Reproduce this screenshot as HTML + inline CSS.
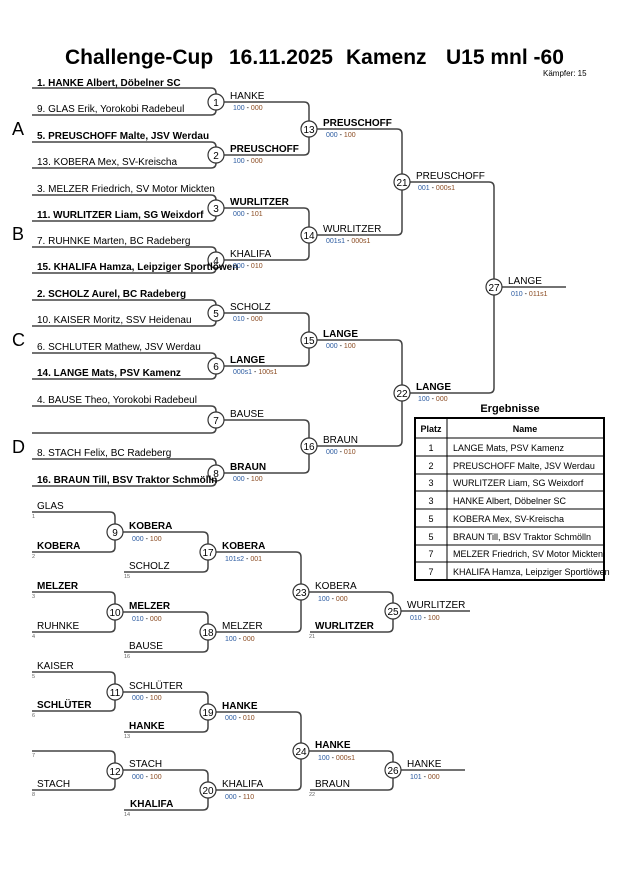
<!DOCTYPE html>
<html><head><meta charset="utf-8"><style>
html,body{margin:0;padding:0;background:#fff;}
svg{display:block;font-family:"Liberation Sans",Arial,sans-serif;}
.n{font-size:10px;fill:#000;}
.b{font-weight:bold;}
.s{font-size:7px;}
.sb{fill:#2a5aa0;} .sr{fill:#8a4a20;}
.t{font-size:5.5px;fill:#666;}
.c{fill:#fff;stroke:#333;stroke-width:1.2;}
.cn{font-size:10px;text-anchor:middle;}
path{fill:none;stroke:#444;stroke-width:1.5;}
</style></head><body>
<svg width="630" height="891" viewBox="0 0 630 891">
<g font-size="21" font-weight="bold">
<text x="65" y="64">Challenge-Cup</text>
<text x="229" y="64">16.11.2025</text>
<text x="346" y="64">Kamenz</text>
<text x="446" y="64">U15 mnl -60</text>
</g>
<text x="543" y="76" font-size="8">Kämpfer: 15</text>
<text x="12" y="135" font-size="18">A</text>
<text x="12" y="240" font-size="18">B</text>
<text x="12" y="346" font-size="18">C</text>
<text x="12" y="453" font-size="18">D</text>

<!-- main bracket lines -->
<path d="M32 88H211Q216 88 216 93V94M32 115H211Q216 115 216 110V110"/>
<path d="M32 142H211Q216 142 216 147V147M32 168H211Q216 168 216 163V163"/>
<path d="M32 195H211Q216 195 216 200V200M32 221H211Q216 221 216 216V216"/>
<path d="M32 247H211Q216 247 216 252V252M32 273H211Q216 273 216 268V268"/>
<path d="M32 300H211Q216 300 216 305V305M32 326H211Q216 326 216 321V321"/>
<path d="M32 353H211Q216 353 216 358V358M32 379H211Q216 379 216 374V374"/>
<path d="M32 406H211Q216 406 216 411V412M32 433H211Q216 433 216 428V428"/>
<path d="M32 459H211Q216 459 216 464V465M32 486H211Q216 486 216 481V481"/>
<path d="M224 102H304Q309 102 309 107V121M224 155H304Q309 155 309 150V137"/>
<path d="M224 208H304Q309 208 309 213V227M224 260H304Q309 260 309 255V243"/>
<path d="M224 313H304Q309 313 309 318V332M224 366H304Q309 366 309 361V348"/>
<path d="M224 420H304Q309 420 309 425V438M224 473H304Q309 473 309 468V454"/>
<path d="M317 129H397Q402 129 402 134V174M317 235H397Q402 235 402 230V190"/>
<path d="M317 340H397Q402 340 402 345V385M317 446H397Q402 446 402 441V401"/>
<path d="M410 182H489Q494 182 494 187V279M410 393H489Q494 393 494 388V295"/>
<path d="M502 287H566"/>

<!-- lower bracket lines -->
<path d="M32 512H110Q115 512 115 517V524M32 552H110Q115 552 115 547V540"/>
<path d="M32 592H110Q115 592 115 597V604M32 632H110Q115 632 115 627V620"/>
<path d="M32 672H110Q115 672 115 677V684M32 711H110Q115 711 115 706V700"/>
<path d="M32 751H110Q115 751 115 756V763M32 790H110Q115 790 115 785V779"/>
<path d="M123 532H203Q208 532 208 537V544M124 572H203Q208 572 208 567V560"/>
<path d="M123 612H203Q208 612 208 617V624M124 652H203Q208 652 208 647V640"/>
<path d="M123 692H203Q208 692 208 697V704M124 732H203Q208 732 208 727V720"/>
<path d="M123 770H203Q208 770 208 775V782M124 810H203Q208 810 208 805V798"/>
<path d="M216 552H296Q301 552 301 557V584M216 632H296Q301 632 301 627V600"/>
<path d="M216 712H296Q301 712 301 717V743M216 790H296Q301 790 301 785V759"/>
<path d="M309 592H388Q393 592 393 597V603M310 632H388Q393 632 393 627V619"/>
<path d="M309 751H388Q393 751 393 756V762M310 790H388Q393 790 393 785V778"/>
<path d="M401 611H470"/>
<path d="M401 770H465"/>

<!-- circles -->
<g>
<circle class="c" cx="216" cy="102" r="8"/><text class="cn" x="216" y="106">1</text>
<circle class="c" cx="216" cy="155" r="8"/><text class="cn" x="216" y="159">2</text>
<circle class="c" cx="216" cy="208" r="8"/><text class="cn" x="216" y="212">3</text>
<circle class="c" cx="216" cy="260" r="8"/><text class="cn" x="216" y="264">4</text>
<circle class="c" cx="216" cy="313" r="8"/><text class="cn" x="216" y="317">5</text>
<circle class="c" cx="216" cy="366" r="8"/><text class="cn" x="216" y="370">6</text>
<circle class="c" cx="216" cy="420" r="8"/><text class="cn" x="216" y="424">7</text>
<circle class="c" cx="216" cy="473" r="8"/><text class="cn" x="216" y="477">8</text>
<circle class="c" cx="309" cy="129" r="8"/><text class="cn" x="309" y="133">13</text>
<circle class="c" cx="309" cy="235" r="8"/><text class="cn" x="309" y="239">14</text>
<circle class="c" cx="309" cy="340" r="8"/><text class="cn" x="309" y="344">15</text>
<circle class="c" cx="309" cy="446" r="8"/><text class="cn" x="309" y="450">16</text>
<circle class="c" cx="402" cy="182" r="8"/><text class="cn" x="402" y="186">21</text>
<circle class="c" cx="402" cy="393" r="8"/><text class="cn" x="402" y="397">22</text>
<circle class="c" cx="494" cy="287" r="8"/><text class="cn" x="494" y="291">27</text>
<circle class="c" cx="115" cy="532" r="8"/><text class="cn" x="115" y="536">9</text>
<circle class="c" cx="115" cy="612" r="8"/><text class="cn" x="115" y="616">10</text>
<circle class="c" cx="115" cy="692" r="8"/><text class="cn" x="115" y="696">11</text>
<circle class="c" cx="115" cy="771" r="8"/><text class="cn" x="115" y="775">12</text>
<circle class="c" cx="208" cy="552" r="8"/><text class="cn" x="208" y="556">17</text>
<circle class="c" cx="208" cy="632" r="8"/><text class="cn" x="208" y="636">18</text>
<circle class="c" cx="208" cy="712" r="8"/><text class="cn" x="208" y="716">19</text>
<circle class="c" cx="208" cy="790" r="8"/><text class="cn" x="208" y="794">20</text>
<circle class="c" cx="301" cy="592" r="8"/><text class="cn" x="301" y="596">23</text>
<circle class="c" cx="301" cy="751" r="8"/><text class="cn" x="301" y="755">24</text>
<circle class="c" cx="393" cy="611" r="8"/><text class="cn" x="393" y="615">25</text>
<circle class="c" cx="393" cy="770" r="8"/><text class="cn" x="393" y="774">26</text>
</g>

<!-- main names -->
<text class="n b" x="37" y="86">1. HANKE Albert, Döbelner SC</text>
<text class="n" x="37" y="112">9. GLAS Erik, Yorokobi Radebeul</text>
<text class="n b" x="37" y="139">5. PREUSCHOFF Malte, JSV Werdau</text>
<text class="n" x="37" y="165">13. KOBERA Mex, SV-Kreischa</text>
<text class="n" x="37" y="192">3. MELZER Friedrich, SV Motor Mickten</text>
<text class="n b" x="37" y="218">11. WURLITZER Liam, SG Weixdorf</text>
<text class="n" x="37" y="244">7. RUHNKE Marten, BC Radeberg</text>
<text class="n b" x="37" y="270">15. KHALIFA Hamza, Leipziger Sportlöwen</text>
<text class="n b" x="37" y="297">2. SCHOLZ Aurel, BC Radeberg</text>
<text class="n" x="37" y="323">10. KAISER Moritz, SSV Heidenau</text>
<text class="n" x="37" y="350">6. SCHLUTER Mathew, JSV Werdau</text>
<text class="n b" x="37" y="376">14. LANGE Mats, PSV Kamenz</text>
<text class="n" x="37" y="403">4. BAUSE Theo, Yorokobi Radebeul</text>
<text class="n" x="37" y="456">8. STACH Felix, BC Radeberg</text>
<text class="n b" x="37" y="483">16. BRAUN Till, BSV Traktor Schmölln</text>

<text class="n" x="230" y="99">HANKE</text><text class="s" x="233" y="110"><tspan class="sb">100</tspan> - <tspan class="sr">000</tspan></text>
<text class="n b" x="230" y="152">PREUSCHOFF</text><text class="s" x="233" y="163"><tspan class="sb">100</tspan> - <tspan class="sr">000</tspan></text>
<text class="n b" x="230" y="205">WURLITZER</text><text class="s" x="233" y="216"><tspan class="sb">000</tspan> - <tspan class="sr">101</tspan></text>
<text class="n" x="230" y="257">KHALIFA</text><text class="s" x="233" y="268"><tspan class="sb">000</tspan> - <tspan class="sr">010</tspan></text>
<text class="n" x="230" y="310">SCHOLZ</text><text class="s" x="233" y="321"><tspan class="sb">010</tspan> - <tspan class="sr">000</tspan></text>
<text class="n b" x="230" y="363">LANGE</text><text class="s" x="233" y="374"><tspan class="sb">000s1</tspan> - <tspan class="sr">100s1</tspan></text>
<text class="n" x="230" y="417">BAUSE</text>
<text class="n b" x="230" y="470">BRAUN</text><text class="s" x="233" y="481"><tspan class="sb">000</tspan> - <tspan class="sr">100</tspan></text>

<text class="n b" x="323" y="126">PREUSCHOFF</text><text class="s" x="326" y="137"><tspan class="sb">000</tspan> - <tspan class="sr">100</tspan></text>
<text class="n" x="323" y="232">WURLITZER</text><text class="s" x="326" y="243"><tspan class="sb">001s1</tspan> - <tspan class="sr">000s1</tspan></text>
<text class="n b" x="323" y="337">LANGE</text><text class="s" x="326" y="348"><tspan class="sb">000</tspan> - <tspan class="sr">100</tspan></text>
<text class="n" x="323" y="443">BRAUN</text><text class="s" x="326" y="454"><tspan class="sb">000</tspan> - <tspan class="sr">010</tspan></text>

<text class="n" x="416" y="179">PREUSCHOFF</text><text class="s" x="418" y="190"><tspan class="sb">001</tspan> - <tspan class="sr">000s1</tspan></text>
<text class="n b" x="416" y="390">LANGE</text><text class="s" x="418" y="401"><tspan class="sb">100</tspan> - <tspan class="sr">000</tspan></text>
<text class="n" x="508" y="284">LANGE</text><text class="s" x="511" y="296"><tspan class="sb">010</tspan> - <tspan class="sr">011s1</tspan></text>

<!-- lower names -->
<text class="n" x="37" y="509">GLAS</text><text class="t" x="32" y="518">1</text>
<text class="n b" x="37" y="549">KOBERA</text><text class="t" x="32" y="558">2</text>
<text class="n b" x="37" y="589">MELZER</text><text class="t" x="32" y="598">3</text>
<text class="n" x="37" y="629">RUHNKE</text><text class="t" x="32" y="638">4</text>
<text class="n" x="37" y="669">KAISER</text><text class="t" x="32" y="678">5</text>
<text class="n b" x="37" y="708">SCHLÜTER</text><text class="t" x="32" y="717">6</text>
<text class="t" x="32" y="757">7</text>
<text class="n" x="37" y="787">STACH</text><text class="t" x="32" y="796">8</text>

<text class="n b" x="129" y="529">KOBERA</text><text class="s" x="132" y="541"><tspan class="sb">000</tspan> - <tspan class="sr">100</tspan></text>
<text class="n" x="129" y="569">SCHOLZ</text><text class="t" x="124" y="578">15</text>
<text class="n b" x="129" y="609">MELZER</text><text class="s" x="132" y="621"><tspan class="sb">010</tspan> - <tspan class="sr">000</tspan></text>
<text class="n" x="129" y="649">BAUSE</text><text class="t" x="124" y="658">16</text>
<text class="n" x="129" y="689">SCHLÜTER</text><text class="s" x="132" y="700"><tspan class="sb">000</tspan> - <tspan class="sr">100</tspan></text>
<text class="n b" x="129" y="729">HANKE</text><text class="t" x="124" y="738">13</text>
<text class="n" x="129" y="767">STACH</text><text class="s" x="132" y="779"><tspan class="sb">000</tspan> - <tspan class="sr">100</tspan></text>
<text class="n b" x="130" y="807">KHALIFA</text><text class="t" x="124" y="816">14</text>

<text class="n b" x="222" y="549">KOBERA</text><text class="s" x="225" y="561"><tspan class="sb">101s2</tspan> - <tspan class="sr">001</tspan></text>
<text class="n" x="222" y="629">MELZER</text><text class="s" x="225" y="641"><tspan class="sb">100</tspan> - <tspan class="sr">000</tspan></text>
<text class="n b" x="222" y="709">HANKE</text><text class="s" x="225" y="720"><tspan class="sb">000</tspan> - <tspan class="sr">010</tspan></text>
<text class="n" x="222" y="787">KHALIFA</text><text class="s" x="225" y="799"><tspan class="sb">000</tspan> - <tspan class="sr">110</tspan></text>

<text class="n" x="315" y="589">KOBERA</text><text class="s" x="318" y="601"><tspan class="sb">100</tspan> - <tspan class="sr">000</tspan></text>
<text class="n b" x="315" y="629">WURLITZER</text><text class="t" x="309" y="638">21</text>
<text class="n b" x="315" y="748">HANKE</text><text class="s" x="318" y="760"><tspan class="sb">100</tspan> - <tspan class="sr">000s1</tspan></text>
<text class="n" x="315" y="787">BRAUN</text><text class="t" x="309" y="796">22</text>

<text class="n" x="407" y="608">WURLITZER</text><text class="s" x="410" y="620"><tspan class="sb">010</tspan> - <tspan class="sr">100</tspan></text>
<text class="n" x="407" y="767">HANKE</text><text class="s" x="410" y="779"><tspan class="sb">101</tspan> - <tspan class="sr">000</tspan></text>

<!-- results table -->
<text x="510" y="412" text-anchor="middle" font-size="11" font-weight="bold">Ergebnisse</text>
<g stroke="#000" stroke-width="1">
<line x1="415" y1="438" x2="604" y2="438"/>
<line x1="415" y1="456" x2="604" y2="456"/>
<line x1="415" y1="474" x2="604" y2="474"/>
<line x1="415" y1="491" x2="604" y2="491"/>
<line x1="415" y1="509" x2="604" y2="509"/>
<line x1="415" y1="527" x2="604" y2="527"/>
<line x1="415" y1="545" x2="604" y2="545"/>
<line x1="415" y1="562" x2="604" y2="562"/>
<line x1="447" y1="418" x2="447" y2="580"/>
<rect x="415" y="418" width="189" height="162" fill="none" stroke-width="2"/>
</g>
<g font-size="9">
<text x="431" y="432" text-anchor="middle" font-weight="bold">Platz</text>
<text x="525" y="432" text-anchor="middle" font-weight="bold">Name</text>
<text x="431" y="451" text-anchor="middle">1</text><text x="453" y="451">LANGE Mats, PSV Kamenz</text>
<text x="431" y="469" text-anchor="middle">2</text><text x="453" y="469">PREUSCHOFF Malte, JSV Werdau</text>
<text x="431" y="486" text-anchor="middle">3</text><text x="453" y="486">WURLITZER Liam, SG Weixdorf</text>
<text x="431" y="504" text-anchor="middle">3</text><text x="453" y="504">HANKE Albert, Döbelner SC</text>
<text x="431" y="522" text-anchor="middle">5</text><text x="453" y="522">KOBERA Mex, SV-Kreischa</text>
<text x="431" y="540" text-anchor="middle">5</text><text x="453" y="540">BRAUN Till, BSV Traktor Schmölln</text>
<text x="431" y="557" text-anchor="middle">7</text><text x="453" y="557">MELZER Friedrich, SV Motor Mickten</text>
<text x="431" y="575" text-anchor="middle">7</text><text x="453" y="575">KHALIFA Hamza, Leipziger Sportlöwen</text>
</g>
</svg>
</body></html>
